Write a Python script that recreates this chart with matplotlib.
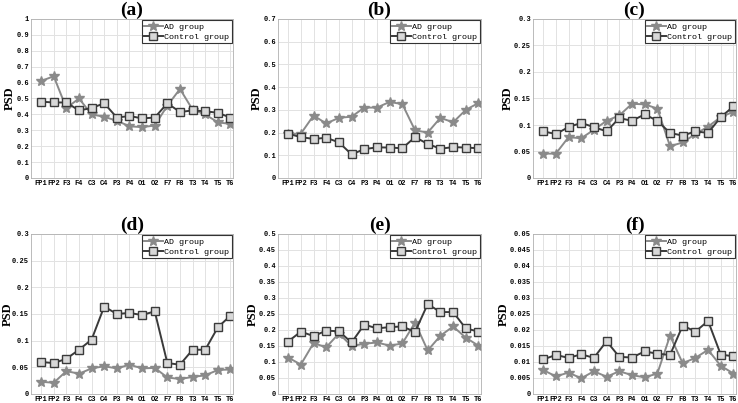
import matplotlib
matplotlib.use('Agg')
import matplotlib.pyplot as plt
import numpy as np

channels = ['FP1', 'FP2', 'F3', 'F4', 'C3', 'C4', 'P3', 'P4',
            'O1', 'O2', 'F7', 'F8', 'T3', 'T4', 'T5', 'T6']

ad_a = [0.61, 0.64, 0.44, 0.50, 0.40, 0.385, 0.36, 0.325, 0.32, 0.33, 0.455, 0.56, 0.43, 0.40, 0.35, 0.34]
ct_a = [0.48, 0.475, 0.475, 0.425, 0.44, 0.47, 0.38, 0.39, 0.375, 0.38, 0.47, 0.415, 0.425, 0.42, 0.41, 0.38]

ad_b = [0.195, 0.195, 0.275, 0.24, 0.265, 0.27, 0.31, 0.31, 0.335, 0.325, 0.21, 0.20, 0.265, 0.245, 0.30, 0.33]
ct_b = [0.195, 0.18, 0.172, 0.177, 0.157, 0.104, 0.127, 0.135, 0.134, 0.131, 0.18, 0.15, 0.129, 0.136, 0.134, 0.131]

ad_c = [0.046, 0.046, 0.077, 0.075, 0.091, 0.108, 0.118, 0.14, 0.139, 0.131, 0.06, 0.067, 0.083, 0.097, 0.115, 0.125]
ct_c = [0.088, 0.083, 0.096, 0.104, 0.096, 0.088, 0.113, 0.108, 0.12, 0.108, 0.085, 0.08, 0.088, 0.085, 0.115, 0.135]

ad_d = [0.023, 0.021, 0.043, 0.038, 0.048, 0.052, 0.048, 0.055, 0.048, 0.049, 0.031, 0.028, 0.032, 0.035, 0.045, 0.046]
ct_d = [0.060, 0.058, 0.066, 0.083, 0.102, 0.164, 0.150, 0.152, 0.148, 0.155, 0.058, 0.055, 0.083, 0.083, 0.125, 0.147]

ad_e = [0.114, 0.092, 0.159, 0.146, 0.189, 0.150, 0.157, 0.161, 0.151, 0.158, 0.223, 0.136, 0.182, 0.211, 0.176, 0.151]
ct_e = [0.164, 0.195, 0.181, 0.198, 0.196, 0.161, 0.217, 0.205, 0.209, 0.211, 0.194, 0.281, 0.256, 0.256, 0.205, 0.195]

ad_f = [0.0075, 0.0055, 0.0067, 0.0049, 0.0071, 0.0054, 0.0071, 0.0059, 0.0052, 0.0064, 0.0182, 0.0096, 0.0113, 0.0138, 0.0088, 0.0064]
ct_f = [0.0108, 0.0122, 0.0113, 0.0124, 0.0113, 0.0165, 0.0116, 0.0114, 0.0133, 0.0126, 0.0122, 0.0214, 0.0195, 0.0228, 0.0123, 0.0118]

panels = [
    ('(a)', ad_a, ct_a, 1.0, 0.1, -0.074),
    ('(b)', ad_b, ct_b, 0.7, 0.1, -0.074),
    ('(c)', ad_c, ct_c, 0.3, 0.05, -0.094),
    ('(d)', ad_d, ct_d, 0.3, 0.05, -0.087),
    ('(e)', ad_e, ct_e, 0.5, 0.05, -0.094),
    ('(f)', ad_f, ct_f, 0.05, 0.005, -0.113),
]

W, H = 738, 403
lefts = [31, 278, 533]
widths = [202, 203, 203]
tops = [19, 234]
heights = [159, 160]

fig = plt.figure(figsize=(7.38, 4.03), dpi=100)
x = np.arange(len(channels))
tickfont = dict(fontsize=5, family='Liberation Mono', fontweight='bold')

for i, (title, ad, ct, ymax, step, labx) in enumerate(panels):
    r, c = divmod(i, 3)
    ax = fig.add_axes([lefts[c] / W, (H - tops[r] - heights[r]) / H,
                       widths[c] / W, heights[r] / H])
    ax.plot(x, ad, color='#8a8a8a', marker='*', markersize=7, linewidth=1.4,
            label='AD group')
    ax.plot(x, ct, color='#3a3a3a', marker='s', markersize=5.5, linewidth=1.4,
            markerfacecolor='#d8d8d8', markeredgecolor='#3a3a3a', markeredgewidth=1.0,
            label='Control group')
    ax.set_xlim(-0.8, len(channels) - 0.8)
    ax.set_ylim(0, ymax)
    ticks = np.arange(0, ymax + step / 2, step)
    ax.set_yticks(ticks)
    ax.set_yticklabels(['%g' % round(t, 4) for t in ticks], **tickfont)
    ax.set_xticks(x)
    ax.set_xticklabels(channels, **tickfont)
    ax.tick_params(length=0, pad=1.5)
    ax.grid(True, color='#e2e2e2', linewidth=0.7)
    ax.set_axisbelow(True)
    for s in ax.spines.values():
        s.set_color('#b0b0b0')
        s.set_linewidth(0.6)
    ax.set_ylabel('PSD', family='Liberation Serif', fontweight='bold', fontsize=9)
    ax.yaxis.set_label_coords(labx, 0.5)
    ax.set_title(title, family='Liberation Serif', fontweight='bold', fontsize=14, pad=1)
    leg = ax.legend(loc='upper right', prop={'family': 'Liberation Mono', 'size': 6},
                    fancybox=False, framealpha=1, edgecolor='#333333',
                    borderpad=0.3, handlelength=2.2, handletextpad=0.2,
                    labelspacing=0.3, borderaxespad=0.15)
    leg.get_frame().set_linewidth(0.8)

fig.savefig('out.png', dpi=100)
